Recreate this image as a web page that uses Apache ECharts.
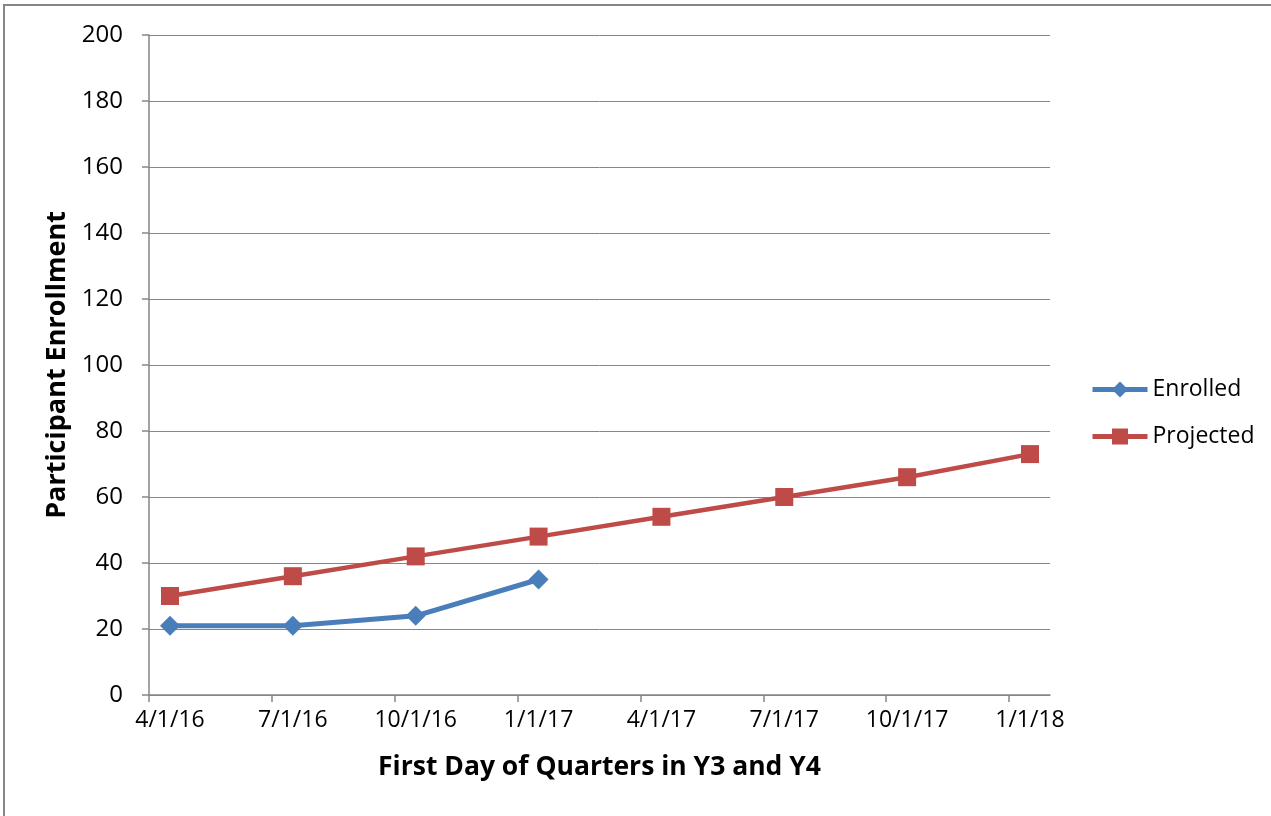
<!DOCTYPE html>
<html>
<head>
<meta charset="utf-8">
<script src="https://cdn.jsdelivr.net/npm/echarts@6/dist/echarts.min.js"></script>
<style>
  html, body { margin: 0; padding: 0; background: #fff; }
  #main { width: 1271px; height: 816px; }
</style>
</head>
<body>
<div id="main"></div>
<script>
// quarter labels, one per data point
var quarters = ['4/1/16', '7/1/16', '10/1/16', '1/1/17', '4/1/17', '7/1/17', '10/1/17', '1/1/18'];
var enrolled = [21, 21, 24, 35];
var projected = [30, 36, 42, 48, 54, 60, 66, 73];
var yTicks = [0, 20, 40, 60, 80, 100, 120, 140, 160, 180, 200];

var chart = echarts.init(document.getElementById('main'));

// points sit a bit right of the tick marks, like the excel date axis
var offset = 0.171;
var tickPos = quarters.map(function (q, i) { return i - offset; });
var labelPos = quarters.map(function (q, i) { return i; });

function pairs(arr) {
  return arr.map(function (v, i) { return [i, v]; });
}

var grey = '#868686';
var font = 'Open Sans';

var option = {
  backgroundColor: '#ffffff',
  animation: false,
  graphic: [{
    type: 'rect',
    shape: { x: 4, y: 5, width: 1400, height: 900 },
    style: { fill: 'none', stroke: grey, lineWidth: 2 },
    silent: true
  }],
  grid: { left: 149, right: 221, top: 35, bottom: 121 },
  legend: {
    orient: 'vertical',
    left: 1085,
    top: 373,
    itemWidth: 55,
    itemHeight: 20,
    itemGap: 24,
    lineStyle: { width: 5 },
    textStyle: { fontFamily: font, fontSize: 23, color: '#000' },
    data: ['Enrolled', 'Projected']
  },
  xAxis: {
    type: 'value',
    min: -offset,
    max: 7.163,
    name: 'First Day of Quarters in Y3 and Y4',
    nameLocation: 'middle',
    nameGap: 59,
    nameTextStyle: { fontFamily: font, fontSize: 26.5, fontWeight: 'bold', color: '#000' },
    axisLine: { show: true, onZero: false, lineStyle: { color: grey, width: 1.5 } },
    axisTick: { show: true, length: 7, customValues: tickPos, lineStyle: { color: grey, width: 1.5 } },
    axisLabel: {
      customValues: labelPos,
      fontFamily: font, fontSize: 23, color: '#000', margin: 14,
      formatter: function (v) { return quarters[Math.round(v)]; }
    },
    splitLine: { show: false }
  },
  yAxis: {
    type: 'value',
    min: 0,
    max: 200,
    interval: 20,
    name: 'Participant Enrollment',
    nameLocation: 'middle',
    nameGap: 78,
    nameTextStyle: { fontFamily: font, fontSize: 27, fontWeight: 'bold', color: '#000' },
    axisLine: { show: true, onZero: false, lineStyle: { color: grey, width: 1.5 } },
    axisTick: { show: true, length: 7, lineStyle: { color: grey, width: 1.5 } },
    axisLabel: {
      fontFamily: font, fontSize: 24, color: '#000', margin: 26,
      customValues: yTicks
    },
    splitLine: { show: true, lineStyle: { color: grey, width: 1 } }
  },
  series: [{
    name: 'Enrolled',
    type: 'line',
    data: pairs(enrolled),
    symbol: 'diamond',
    symbolSize: 20,
    lineStyle: { color: '#4A7EBB', width: 5 },
    itemStyle: { color: '#4A7EBB' }
  }, {
    name: 'Projected',
    type: 'line',
    data: pairs(projected),
    symbol: 'rect',
    symbolSize: 18,
    lineStyle: { color: '#BE4B48', width: 4.5 },
    itemStyle: { color: '#BE4B48' }
  }]
};

chart.setOption(option);
</script>
</body>
</html>
